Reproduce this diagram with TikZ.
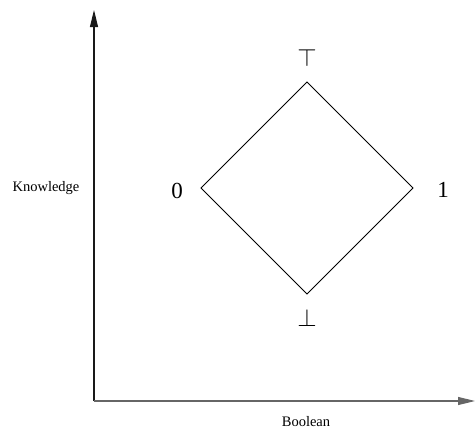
\documentclass[tikz,border=0pt]{standalone}
\usepackage{fontspec}
\setmainfont{Liberation Serif}
\usetikzlibrary{arrows.meta}
\tikzset{
  axis/.style={line width=1.1pt, -{Triangle[length=17pt,width=8pt]}},
  edge/.style={line width=0.8pt},
  lbl/.style={inner sep=0pt, font=\fontsize{14.5}{16}\selectfont},
  val/.style={inner sep=0pt, font=\fontsize{23}{25}\selectfont},
  sym/.style={inner sep=0pt, font=\fontsize{28}{30}\selectfont},
}
\begin{document}
\begin{tikzpicture}[x=1pt,y=-1pt]
\useasboundingbox (0,0) rectangle (475,432);
\coordinate (o) at (94,401);
\coordinate (ytip) at (94,10);
\coordinate (xtip) at (475,401);
\draw[axis, black!90] (o) -- (ytip);
\draw[axis, black!60] (o) -- (xtip);
\coordinate (top) at (307,82);
\coordinate (bot) at (307,294);
\coordinate (left) at (201,188);
\coordinate (right) at (413,188);
\draw[edge] (top) -- (right) -- (bot) -- (left) -- cycle;
\node[sym] (topl) at (307,58) {$\top$};
\node[sym] (botl) at (307,318) {$\bot$};
\node[val] (zero) at (177,191) {0};
\node[val] (one) at (443,190) {1};
\node[lbl] (know) at (46,188) {Knowledge};
\node[lbl] (bool) at (306,422) {Boolean};
\end{tikzpicture}
\end{document}
